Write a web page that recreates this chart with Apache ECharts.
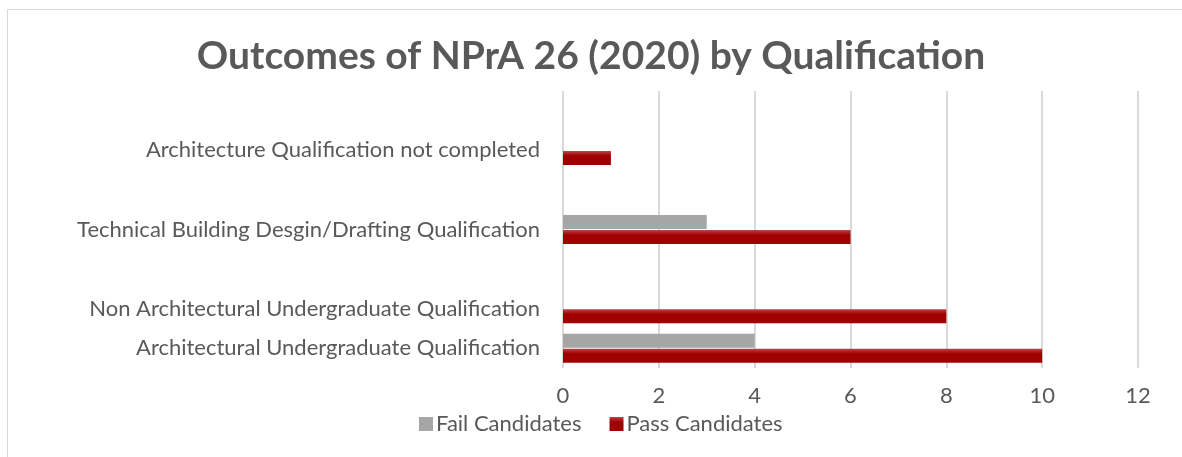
<!DOCTYPE html>
<html>
<head>
<meta charset="utf-8">
<script src="https://cdn.jsdelivr.net/npm/echarts@6/dist/echarts.min.js"></script>
<style>
  html, body { margin: 0; padding: 0; background: #fff; overflow: hidden; width: 1182px; height: 457px; }
  .frame {
    position: absolute; left: 7px; top: 9px; width: 1200px; height: 470px;
    border: 1px solid #d9d9d9; box-sizing: border-box;
  }
  .my-echarts { position: absolute; left: 0; top: 0; width: 1182px; height: 457px; }
</style>
</head>
<body>
<div class="frame"></div>
<div class="my-echarts" id="chart"></div>
<script>
// categories bottom to top (blank rows are empty categories in the sheet)
var categories = [
  "Architectural Undergraduate Qualification",
  "Non Architectural Undergraduate Qualification",
  "",
  "Technical Building Desgin/Drafting Qualification",
  "",
  "Architecture Qualification not completed",
  " "
];
var failCandidates = [4, 0, null, 3, null, 0, null];
var passCandidates = [10, 8, null, 6, null, 1, null];
var xTicks = [0, 12, 2]; // min, max, interval

var myChart = echarts.init(document.getElementById("chart"));
myChart.setOption({
  animation: false,
  textStyle: { fontFamily: "Lato" },
  title: {
    text: "Outcomes of NPrA 26 (2020) by Qualification",
    left: "center",
    top: 32,
    textStyle: {
      fontSize: 39,
      fontWeight: "bold",
      color: "#595959",
      fontFamily: "Lato",
    },
  },
  grid: {
    left: 563,
    right: 44,
    top: 91,
    bottom: 89,
  },
  legend: {
    data: ["Fail Candidates", "Pass Candidates"],
    left: 414,
    top: 408,
    itemWidth: 14,
    itemHeight: 14,
    itemGap: 28,
    icon: "rect",
    textStyle: { fontSize: 22, color: "#595959", padding: [0, 0, 0, -2] },
  },
  xAxis: {
    type: "value",
    min: xTicks[0],
    max: xTicks[1],
    interval: xTicks[2],
    axisLine: { show: false },
    axisTick: { show: false },
    axisLabel: { fontSize: 22, color: "#595959", margin: 17 },
    splitLine: {
      show: true,
      lineStyle: { color: "#d9d9d9", width: 2 },
    },
  },
  yAxis: {
    type: "category",
    data: categories,
    axisLine: { show: false },
    axisTick: { show: false },
    axisLabel: { fontSize: 22, color: "#595959", margin: 23, interval: 0 },
    splitLine: { show: false },
  },
  series: [
    {
      name: "Fail Candidates",
      type: "bar",
      data: failCandidates,
      barWidth: 14,
      barGap: "8%",
      itemStyle: { color: "#a6a6a6" },
    },
    {
      name: "Pass Candidates",
      type: "bar",
      data: passCandidates,
      barWidth: 14,
      barGap: "8%",
      itemStyle: {
        color: new echarts.graphic.LinearGradient(0, 0, 0, 1, [
          { offset: 0, color: "#b84646" },
          { offset: 0.35, color: "#a00000" },
          { offset: 1, color: "#a00000" },
        ]),
      },
    },
  ],
});
</script>
</body>
</html>
